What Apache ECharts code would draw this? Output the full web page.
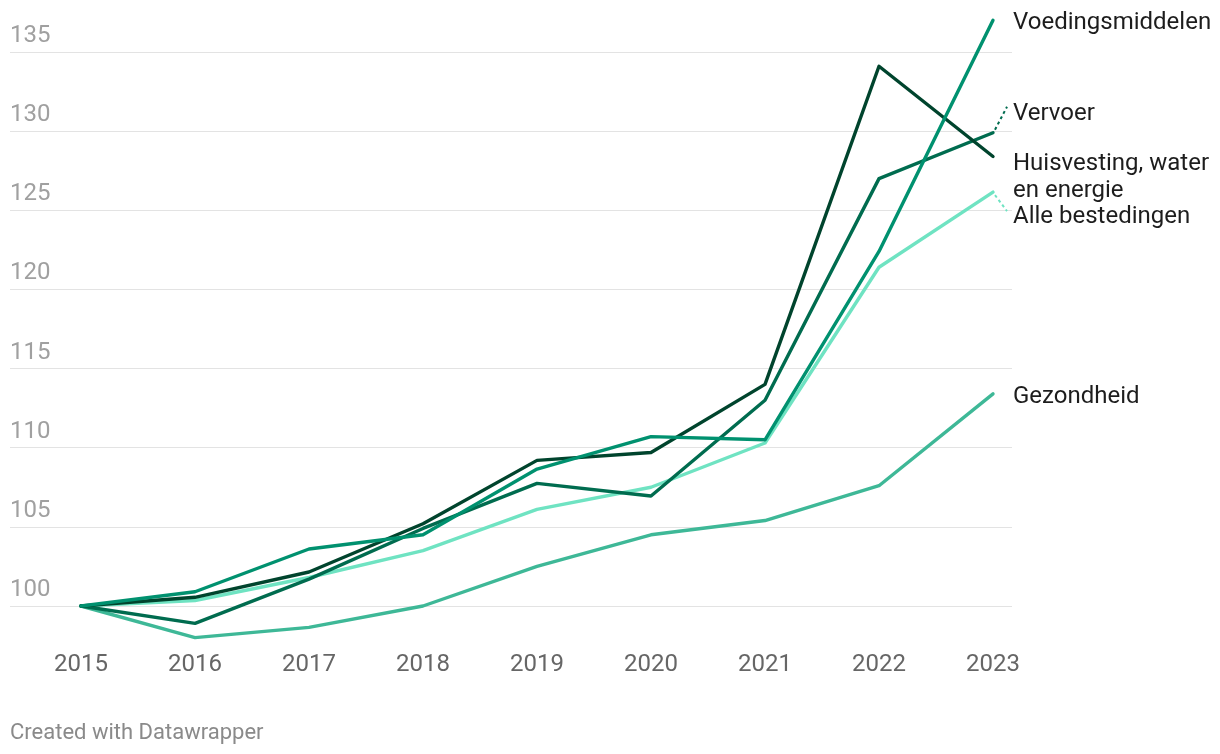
<!DOCTYPE html>
<html>
<head>
<meta charset="utf-8">
<script src="https://cdn.jsdelivr.net/npm/echarts@6/dist/echarts.min.js"></script>
<style>
html,body{margin:0;padding:0;background:#fff;}
#c{width:1220px;height:754px;}
</style>
</head>
<body>
<div id="c"></div>
<script>
const years = [2015, 2016, 2017, 2018, 2019, 2020, 2021, 2022, 2023];
const yTicks = [100, 105, 110, 115, 120, 125, 130, 135];
const voedingsmiddelen = [100, 100.9, 103.6, 104.5, 108.65, 110.7, 110.5, 122.4, 137.0];
const vervoer = [100, 98.9, 101.7, 104.9, 107.75, 106.95, 113.0, 127.0, 129.9];
const huisvesting = [100, 100.55, 102.15, 105.2, 109.2, 109.7, 114.0, 134.1, 128.4];
const alleBestedingen = [100, 100.35, 101.8, 103.5, 106.1, 107.5, 110.3, 121.4, 126.15];
const gezondheid = [100, 98.0, 98.65, 100.0, 102.5, 104.5, 105.4, 107.6, 113.4];

const seriesDefs = [
  {name: 'Gezondheid', label: ['Gezondheid'], data: gezondheid, color: '#3eb897', dy: 0, leader: false},
  {name: 'Alle bestedingen', label: ['Alle bestedingen'], data: alleBestedingen, color: '#6fe3c2', dy: 22, leader: true},
  {name: 'Vervoer', label: ['Vervoer'], data: vervoer, color: '#006c4f', dy: -22, leader: true},
  {name: 'Huisvesting, water en energie', label: ['Huisvesting, water', 'en energie'], data: huisvesting, color: '#00442d', dy: 5, leader: false},
  {name: 'Voedingsmiddelen', label: ['Voedingsmiddelen'], data: voedingsmiddelen, color: '#00916f', dy: 0, leader: false}
];

const FONT = 'Roboto, "Noto Sans", sans-serif';
const chart = echarts.init(document.getElementById('c'), null, {renderer: 'canvas'});

const option = {
  animation: false,
  backgroundColor: '#ffffff',
  grid: {left: 10, right: 208, top: 52, bottom: 148, containLabel: false},
  xAxis: {
    type: 'value',
    min: 2015 - 71 / 114,
    max: 2023 + 19 / 114,
    axisLine: {show: false},
    axisTick: {show: false},
    splitLine: {show: false},
    axisLabel: {
      customValues: years,
      formatter: v => String(v),
      color: '#666666',
      fontFamily: FONT,
      fontSize: 24,
      margin: 47
    }
  },
  yAxis: {
    type: 'value',
    min: 100,
    max: 135,
    interval: 5,
    axisLine: {show: false},
    axisTick: {show: false},
    splitLine: {lineStyle: {color: '#e3e3e3', width: 1}},
    axisLabel: {
      inside: true,
      margin: 0,
      verticalAlign: 'bottom',
      padding: [0, 0, 4, 0],
      color: '#a0a0a0',
      fontFamily: FONT,
      fontSize: 24,
      formatter: v => (yTicks.indexOf(v) >= 0 ? String(v) : '')
    }
  },
  series: seriesDefs.map(s => ({
    name: s.name,
    type: 'line',
    clip: false,
    symbol: 'none',
    data: years.map((y, i) => [y, s.data[i]]),
    lineStyle: {color: s.color, width: 3.4, join: 'round', cap: 'round'},
    itemStyle: {color: s.color},
    emphasis: {disabled: true}
  }))
};
chart.setOption(option);

const graphics = [];
seriesDefs.forEach(s => {
  const last = years.length - 1;
  const p = chart.convertToPixel({gridIndex: 0}, [years[last], s.data[last]]);
  const tx = p[0] + 20;
  const lineH = 27;
  const firstY = p[1] + s.dy;
  s.label.forEach((t, k) => {
    graphics.push({
      type: 'text',
      x: tx, y: firstY + k * lineH + 3,
      style: {text: t, fill: '#1d1d1d', font: '24px ' + FONT, verticalAlign: 'middle', align: 'left'},
      silent: true
    });
  });
  if (s.leader) {
    const endY = s.dy < 0 ? firstY - 4 : firstY - 3;
    graphics.push({
      type: 'line',
      shape: {x1: p[0] + 2, y1: p[1] + (s.dy < 0 ? -3 : 3), x2: p[0] + 14, y2: endY},
      style: {stroke: s.color, lineWidth: 2, lineDash: [3, 3]},
      silent: true
    });
  }
});
graphics.push({
  type: 'text', x: 10, y: 733,
  style: {text: 'Created with Datawrapper', fill: '#8a8a8a', font: '22px ' + FONT, verticalAlign: 'middle', align: 'left'},
  silent: true
});
chart.setOption({graphic: graphics});
</script>
</body>
</html>
